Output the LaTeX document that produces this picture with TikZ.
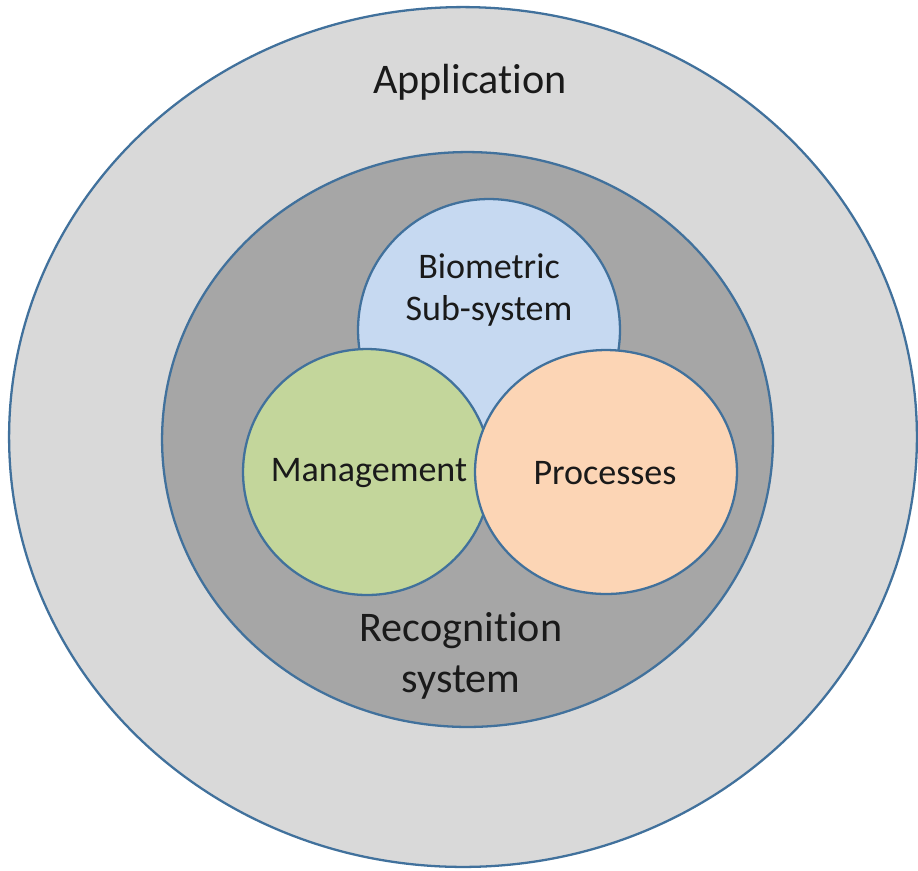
\documentclass[tikz,border=0pt]{standalone}
\usepackage{fontspec}
\setmainfont[Ligatures={NoCommon,NoRequired,NoContextual}]{Carlito}
\usepackage{tikz}
\usetikzlibrary{positioning,shapes.geometric}
\definecolor{palEdge}{HTML}{41719C}
\definecolor{palAppl}{HTML}{D9D9D9}
\definecolor{palReco}{HTML}{A6A6A6}
\definecolor{palBlueLt}{HTML}{C6D9F1}
\definecolor{palGreenLt}{HTML}{C3D69B}
\definecolor{palOrangeLt}{HTML}{FCD5B5}
\definecolor{palText}{HTML}{1A1A1A}
\tikzset{
  ringnode/.style={draw=palEdge, ellipse, line width=1.3pt, inner sep=0pt},
  bignote/.style={font=\fontsize{24}{29}\selectfont, text=palText, align=center},
  smallnote/.style={font=\fontsize{20.5}{24}\selectfont, text=palText, align=center},
}
\begin{document}
\begin{tikzpicture}[x=0.02cm, y=-0.02cm]
\useasboundingbox (0,0) rectangle (918,870);

%% Outer rings
\node[ringnode, fill=palAppl, minimum width=18.16cm, minimum height=17.2cm] (appl) at (463, 437) {};
\node[ringnode, fill=palReco, minimum width=12.22cm, minimum height=11.5cm] (reco) at (467.5, 439.5) {};

%% Inner circles
\node[ringnode, fill=palBlueLt, minimum width=5.24cm, minimum height=5.24cm] (bio) at (489, 330) {};
\node[ringnode, fill=palGreenLt, minimum width=4.96cm, minimum height=4.92cm] (mgmt) at (367, 472) {};
\node[ringnode, fill=palOrangeLt, minimum width=5.24cm, minimum height=4.88cm] (proc) at (606, 472) {};

%% Labels
\node[bignote] (applLabel) at (470, 82) {Application};
\node[smallnote] (bioLabel) at (489, 290) {Biometric\\Sub-system};
\node[smallnote] (mgmtLabel) at (369, 473) {Management};
\node[smallnote] (procLabel) at (605, 473) {Processes};
\node[bignote] (recoLabel) at (461, 656) {Recognition\\system};
\end{tikzpicture}
\end{document}
